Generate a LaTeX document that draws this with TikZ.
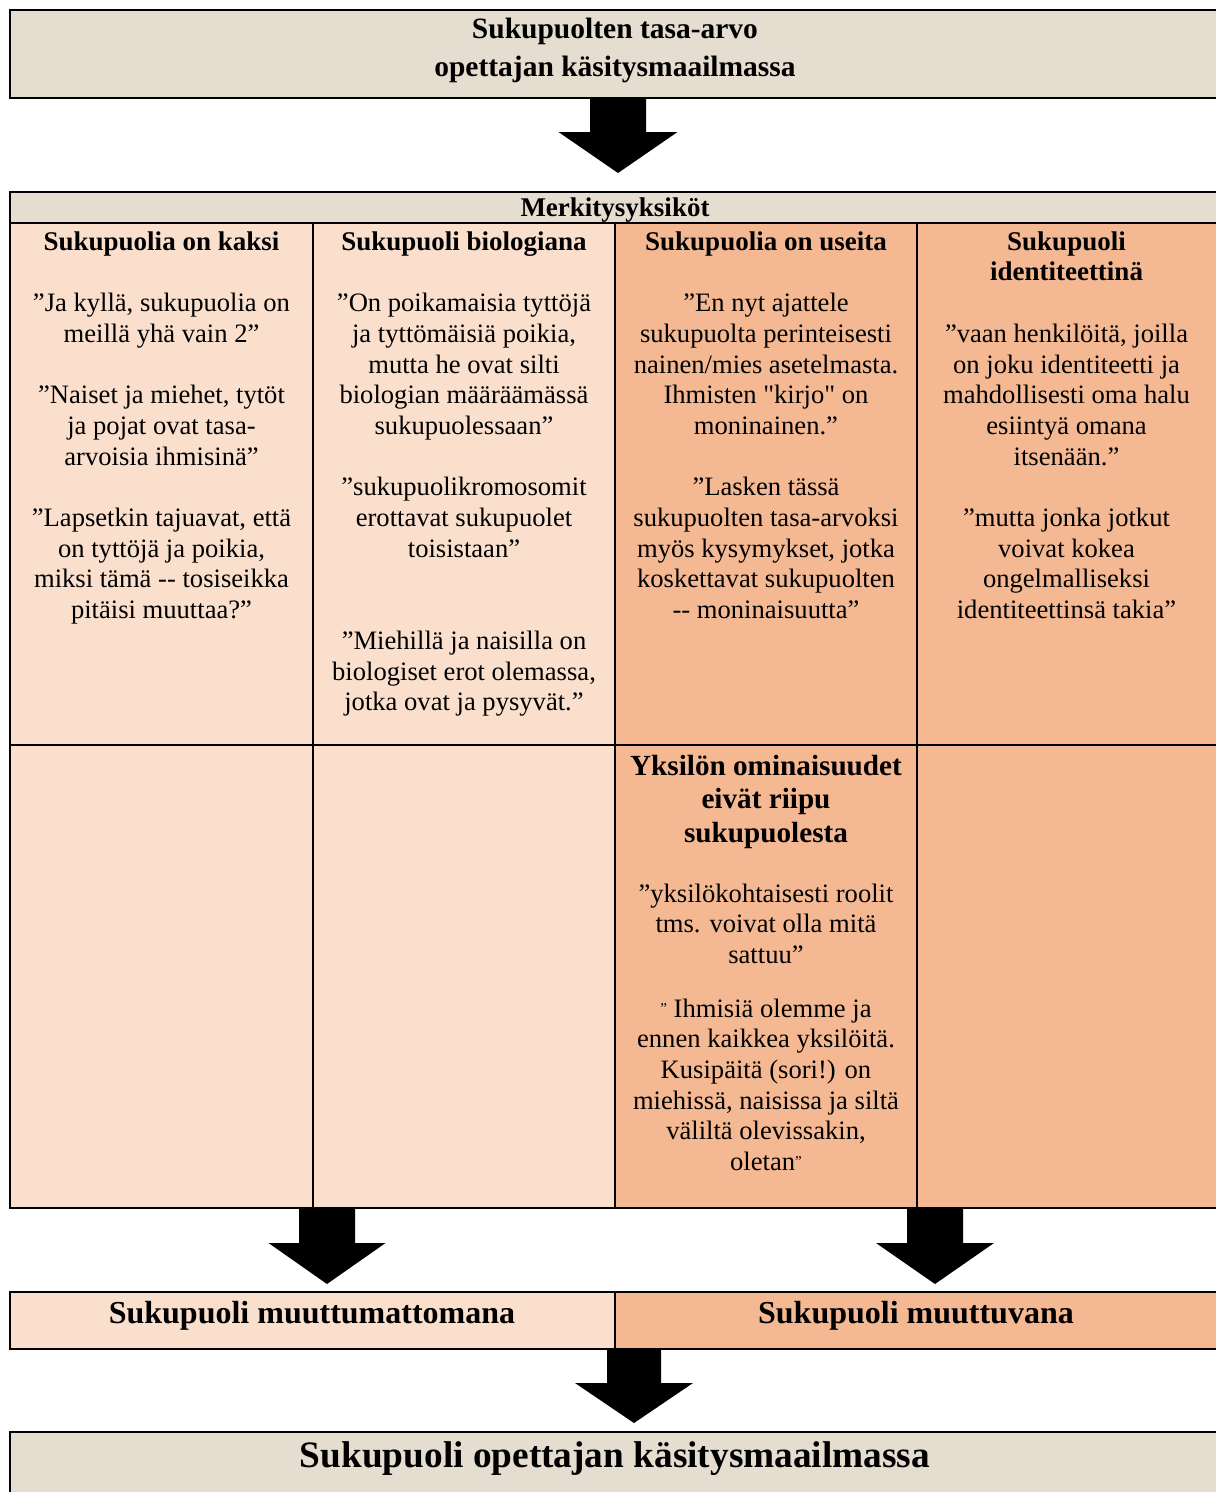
\documentclass[tikz,border=0pt]{standalone}
\usepackage{fontspec}
\setmainfont{Liberation Serif}[Ligatures=TeXOff]
\definecolor{hdr}{HTML}{E6DDD1}
\definecolor{lightpeach}{HTML}{FADFCD}
\definecolor{darkpeach}{HTML}{F4B992}
\newcommand\fl{\rule{0pt}{0.8em}}
\newcommand\smq{\raisebox{4pt}{\fontsize{15}{15}\selectfont ”}}
\newcommand\hd[1]{{\fontsize{27}{30.7}\selectfont\bfseries #1}}
\newcommand\blockarrow[5]{%
  \fill[black] (#1) ++(-#4,0) -- ++(0,#2) -- ++(#4-#5,0) -- ++(#5,#3) -- ++(#5,-#3) -- ++(#4-#5,0) -- ++(0,-#2) -- cycle;}
\tikzset{
  outerline/.style={draw=black, line width=2.7pt},
  innerline/.style={draw=black, line width=2pt},
  thinline/.style={draw=black, line width=1.2pt},
  cell/.style={inner sep=0pt, align=center, font=\fontsize{26.6}{30.7}\selectfont},
  cellhead/.style={inner sep=0pt, align=center, font=\fontsize{29.2}{33.5}\selectfont\bfseries},
  titletxt/.style={inner sep=0pt, align=center, font=\fontsize{29.5}{38.4}\selectfont\bfseries},
  rowtxt/.style={inner sep=0pt, anchor=base, font=\fontsize{32}{36}\selectfont\bfseries},
  bigtxt/.style={inner sep=0pt, anchor=base, font=\fontsize{37.3}{40}\selectfont\bfseries},
}
\begin{document}
\begin{tikzpicture}[x=1pt,y=-1pt]
\useasboundingbox (0,0) rectangle (1216,1492);
\clip (0,0) rectangle (1216,1492);
\fill[white] (0,0) rectangle (1216,1492);

% top box
\filldraw[fill=hdr, outerline] (10,10) rectangle (1225,98);
\node[titletxt, anchor=north] (toptitle) at (615,14.7) {\fl Sukupuolten tasa-arvo\\ opettajan käsitysmaailmassa};

% arrow 1
\coordinate (a1) at (618,98);
\blockarrow{a1}{34}{41}{28}{59.5}

% table fills
\fill[hdr] (10,192) rectangle (1225,223);
\fill[lightpeach] (10,223) rectangle (615,1208);
\fill[darkpeach] (615,223) rectangle (1225,1208);
% inner lines
\draw[innerline] (10,223) -- (1225,223);
\draw[innerline] (10,745) -- (1225,745);
\draw[innerline] (313,223) -- (313,1208);
\draw[innerline] (615,223) -- (615,1208);
\draw[innerline] (917,223) -- (917,1208);
\draw[outerline] (10,192) rectangle (1225,1208);

\node[inner sep=0pt, anchor=base, font=\fontsize{27}{30}\selectfont\bfseries] (hdrtxt) at (615,216) {Merkitysyksiköt};

% row 1 cells
\node[cell, anchor=north] (c11) at (161.5,228.4) {\hd{\fl Sukupuolia on kaksi}\\[30.7pt]
”Ja kyllä, sukupuolia on\\ meillä yhä vain 2”\\[30.7pt]
”Naiset ja miehet, tytöt\\ ja pojat ovat tasa-\\ arvoisia ihmisinä”\\[30.7pt]
”Lapsetkin tajuavat, että\\ on tyttöjä ja poikia,\\ miksi tämä -- tosiseikka\\ pitäisi muuttaa?”};

\node[cell, anchor=north] (c12) at (464,228.4) {\hd{\fl Sukupuoli biologiana}\\[30.7pt]
”On poikamaisia tyttöjä\\ ja tyttömäisiä poikia,\\ mutta he ovat silti\\ biologian määräämässä\\ sukupuolessaan”\\[30.7pt]
”sukupuolikromosomit\\ erottavat sukupuolet\\ toisistaan”\\[61.4pt]
”Miehillä ja naisilla on\\ biologiset erot olemassa,\\ jotka ovat ja pysyvät.”};

\node[cell, anchor=north] (c13) at (766,228.4) {\hd{\fl Sukupuolia on useita}\\[30.7pt]
”En nyt ajattele\\ sukupuolta perinteisesti\\ nainen/mies asetelmasta.\\ Ihmisten "kirjo" on\\ moninainen.”\\[30.7pt]
”Lasken tässä\\ sukupuolten tasa-arvoksi\\ myös kysymykset, jotka\\ koskettavat sukupuolten\\ -- moninaisuutta”};

\node[cell, anchor=north] (c14) at (1066.5,228.4) {\hd{\fl Sukupuoli}\\ \hd{identiteettinä}\\[30.7pt]
”vaan henkilöitä, joilla\\ on joku identiteetti ja\\ mahdollisesti oma halu\\ esiintyä omana\\ itsenään.”\\[30.7pt]
”mutta jonka jotkut\\ voivat kokea\\ ongelmalliseksi\\ identiteettinsä takia”};

% row 2 cell
\node[cellhead, anchor=north] (c23h) at (766,751.6) {\fl Yksilön ominaisuudet\\ eivät riipu\\ sukupuolesta};
\node[cell, anchor=north] (c23a) at (766,880.7) {\fl ”yksilökohtaisesti roolit\\ tms. voivat olla mitä\\ sattuu”};
\node[cell, anchor=north] (c23b) at (766,995.7) {\fl \smq{} Ihmisiä olemme ja\\ ennen kaikkea yksilöitä.\\ Kusipäitä (sori!) on\\ miehissä, naisissa ja siltä\\ väliltä olevissakin,\\ oletan\smq};

% arrows 2
\coordinate (a2) at (327,1208);
\blockarrow{a2}{35}{41}{28}{58.5}
\coordinate (a3) at (935,1208);
\blockarrow{a3}{35}{41}{28}{59}

% middle row
\fill[lightpeach] (10,1292) rectangle (615,1349);
\fill[darkpeach] (615,1292) rectangle (1225,1349);
\draw[thinline] (615,1292) -- (615,1349);
\draw[outerline] (10,1292) rectangle (1225,1349);
\node[rowtxt] (fixed) at (312,1323) {Sukupuoli muuttumattomana};
\node[rowtxt] (changing) at (916,1323) {Sukupuoli muuttuvana};

% arrow 4
\coordinate (a4) at (634,1349);
\blockarrow{a4}{34}{40}{27}{59}

% bottom box
\filldraw[fill=hdr, outerline] (10,1432) rectangle (1225,1520);
\node[bigtxt] (bottomtitle) at (615,1467) {Sukupuoli opettajan käsitysmaailmassa};
\end{tikzpicture}
\end{document}
